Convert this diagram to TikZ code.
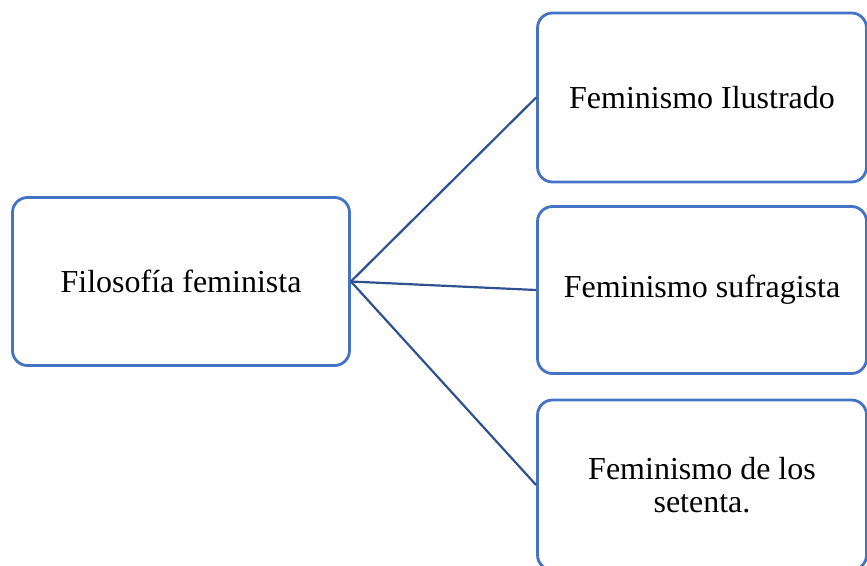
\documentclass[tikz,border=0pt]{standalone}
\usepackage{fontspec}
\setmainfont{Liberation Serif}
\definecolor{boxblue}{HTML}{4472C4}
\definecolor{linkblue}{HTML}{2F528F}
\begin{document}
\begin{tikzpicture}[x=1pt,y=-1pt,
  topic/.style={draw=boxblue, line width=2.8pt, rounded corners=15pt, fill=white,
    align=center, inner sep=0pt, font=\fontsize{32}{33}\selectfont},
  link/.style={draw=linkblue, line width=2.2pt}]
  \useasboundingbox (0,0) rectangle (867,565);
  % central topic
  \node[topic, minimum width=337pt, minimum height=168pt] (root) at (181,281.5) {Filosofía feminista};
  % branches
  \node[topic, minimum width=329pt, minimum height=169pt] (b1) at (702,97.5) {Feminismo Ilustrado};
  \node[topic, minimum width=329pt, minimum height=167pt] (b2) at (702,290) {Feminismo sufragista};
  \node[topic, minimum width=329pt, minimum height=170pt] (b3) at (702,485) {Feminismo de los\\setenta.};
  % connectors
  \draw[link] (root.east) -- (b1.west);
  \draw[link] (root.east) -- (b2.west);
  \draw[link] (root.east) -- (b3.west);
\end{tikzpicture}
\end{document}
